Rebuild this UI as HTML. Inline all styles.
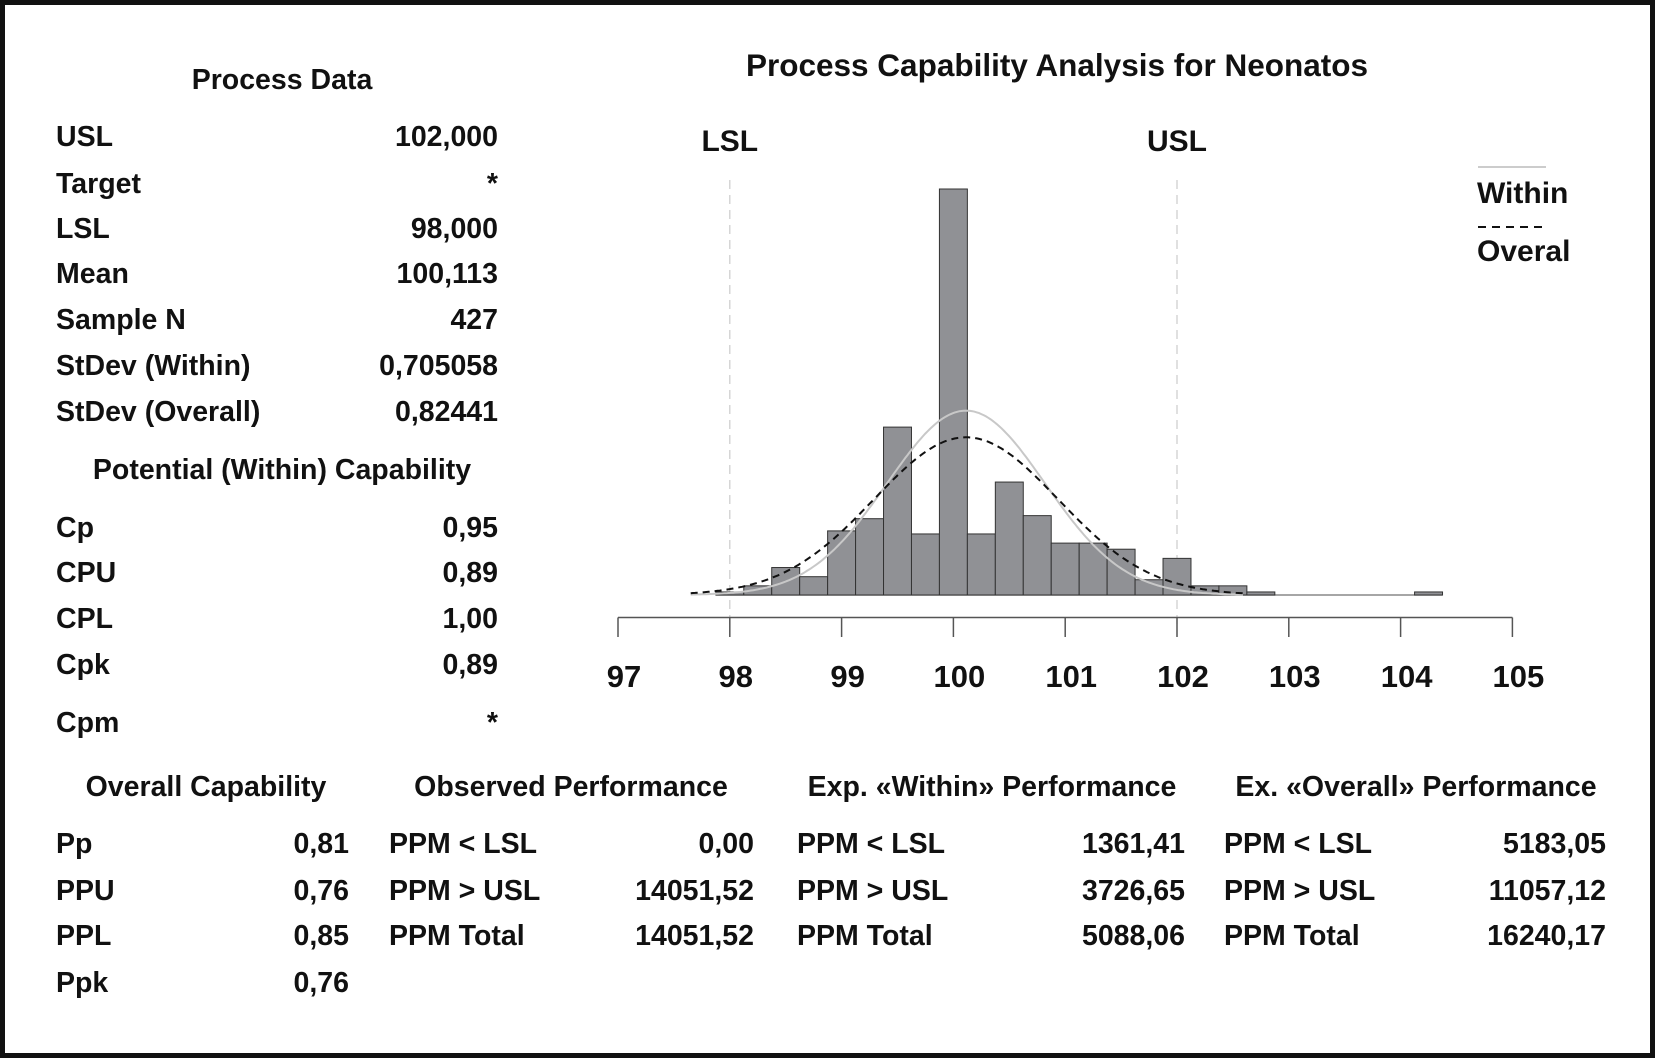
<!DOCTYPE html>
<html><head><meta charset="utf-8">
<style>
html,body{margin:0;padding:0;background:#fff;}
svg{display:block;font-family:"Liberation Sans",sans-serif;font-weight:bold;}
text{fill:#111;}
</style></head>
<body>
<svg id="chart" width="1655" height="1058" viewBox="0 0 1655 1058">
<rect x="2.5" y="2.5" width="1650" height="1053" fill="#fff" stroke="#111" stroke-width="5"/>
<g id="texts" font-size="28.5"></g>
<g id="plot"></g>
</svg>
<script>
// chart data
const binStart = 97.875;
const binWidth = 0.25;
const counts = [1,3,9,6,21,25,55,20,133,20,37,26,17,17,15,5,12,3,3,1,0,0,0,0,0,1];
const xTicks = [97,98,99,100,101,102,103,104,105];
const specLimits = [98,102];
const specNames = ['LSL','USL'];
const meanVal = 100.113;
const sdWithin = 0.705058;
const sdOverall = 0.82441;
const sampleN = 427;

const NS='http://www.w3.org/2000/svg';
const svg=document.getElementById('chart');
const plot=document.getElementById('plot');
const texts=document.getElementById('texts');
function mk(tag,attrs,parent){const e=document.createElementNS(NS,tag);for(const k in attrs)e.setAttribute(k,attrs[k]);(parent||plot).appendChild(e);return e;}
const X0=618, PXU=111.8;
function xs(v){return X0+(v-97)*PXU;}
const BASE=595, TOPPX=189, MAXC=133;
function ys(c){return BASE-c*(BASE-TOPPX)/MAXC;}

// spec lines
specLimits.forEach((s,i)=>{
  const l=mk('line',{x1:xs(s),x2:xs(s),y1:180,y2:636,stroke:'#ccc','stroke-width':1.2,'stroke-dasharray':'9,6'});
  
  
  const t=mk('text',{x:xs(s),y:151,'text-anchor':'middle','font-size':30});
  t.textContent=specNames[i];
  
  
});
// baseline
const bl=mk('line',{x1:xs(binStart),x2:xs(binStart+counts.length*binWidth),y1:BASE,y2:BASE,stroke:'#888','stroke-width':1.5});


// bars
counts.forEach((c,i)=>{
  if(c<=0)return;
  const x=xs(binStart+i*binWidth);
  const r=mk('rect',{x:x,y:ys(c),width:binWidth*PXU,height:BASE-ys(c),fill:'#909195',stroke:'#333','stroke-width':1});
  
  
});
// curves
function curve(sd,opts,name){
  let d='';
  for(let v=97.65;v<=102.6;v+=0.02){
    const c=sampleN*binWidth*Math.exp(-0.5*((v-meanVal)/sd)**2)/(sd*Math.sqrt(2*Math.PI));
    d+=(d?'L':'M')+xs(v).toFixed(1)+','+ys(c).toFixed(1);
  }
  const p=mk('path',Object.assign({d:d,fill:'none'},opts));
  
  
}
curve(sdWithin,{stroke:'#c8c8c8','stroke-width':2},'within-curve');
curve(sdOverall,{stroke:'#111','stroke-width':2,'stroke-dasharray':'7,5'},'overall-curve');
// axis
const ax=mk('line',{x1:xs(xTicks[0]),x2:xs(xTicks[xTicks.length-1]),y1:617.5,y2:617.5,stroke:'#555','stroke-width':1.5});


xTicks.forEach(v=>{
  const tk=mk('line',{x1:xs(v),x2:xs(v),y1:617.5,y2:637,stroke:'#555','stroke-width':1.5});
  
  
  const t=mk('text',{x:xs(v)+6,y:687,'text-anchor':'middle','font-size':31});
  t.textContent=v;
  
  
});
// legend
const lg1=mk('line',{x1:1478,x2:1546,y1:167,y2:167,stroke:'#ccc','stroke-width':2});


const lg2=mk('line',{x1:1478,x2:1546,y1:227,y2:227,stroke:'#111','stroke-width':2,'stroke-dasharray':'8,6'});



// texts
function T(str,x,y,anchor,name,size){
  const t=mk('text',{x:x,y:y+10,'text-anchor':anchor||'start'},texts);
  if(size)t.setAttribute('font-size',size);
  t.textContent=str;
  
  
}
T('Process Capability Analysis for Neonatos',1057,66,'middle','chart-title',31.5);
T('Within',1477,193,'start','legend-within',30);
T('Overal',1477,251,'start','legend-overall',30);
T('Process Data',282,79,'middle','process-data-heading');
const pd=[['USL','102,000'],['Target','*'],['LSL','98,000'],['Mean','100,113'],['Sample N','427'],['StDev (Within)','0,705058'],['StDev (Overall)','0,82441']];
const pdy=[136,183,228,273,319,365,411];
pd.forEach((r,i)=>{T(r[0],56,pdy[i],'start','process-data-label');T(r[1],498,pdy[i],'end','process-data-value');});
T('Potential (Within) Capability',282,469,'middle','potential-capability-heading');
const pc=[['Cp','0,95'],['CPU','0,89'],['CPL','1,00'],['Cpk','0,89'],['Cpm','*']];
const pcy=[527,572,618,664,722];
pc.forEach((r,i)=>{T(r[0],56,pcy[i],'start','capability-label');T(r[1],498,pcy[i],'end','capability-value');});
const heads=[['Overall Capability',206],['Observed Performance',571],['Exp. «Within» Performance',992],['Ex. «Overall» Performance',1416]];
heads.forEach(h=>T(h[0],h[1],786,'middle','section-heading'));
const ry=[843,890,935,982];
const cols=[
 {lx:56,rx:349,rows:[['Pp','0,81'],['PPU','0,76'],['PPL','0,85'],['Ppk','0,76']]},
 {lx:389,rx:754,rows:[['PPM < LSL','0,00'],['PPM > USL','14051,52'],['PPM Total','14051,52']]},
 {lx:797,rx:1185,rows:[['PPM < LSL','1361,41'],['PPM > USL','3726,65'],['PPM Total','5088,06']]},
 {lx:1224,rx:1606,rows:[['PPM < LSL','5183,05'],['PPM > USL','11057,12'],['PPM Total','16240,17']]}
];
cols.forEach(c=>c.rows.forEach((r,i)=>{T(r[0],c.lx,ry[i],'start','performance-label');T(r[1],c.rx,ry[i],'end','performance-value');}));
</script>
</body></html>
